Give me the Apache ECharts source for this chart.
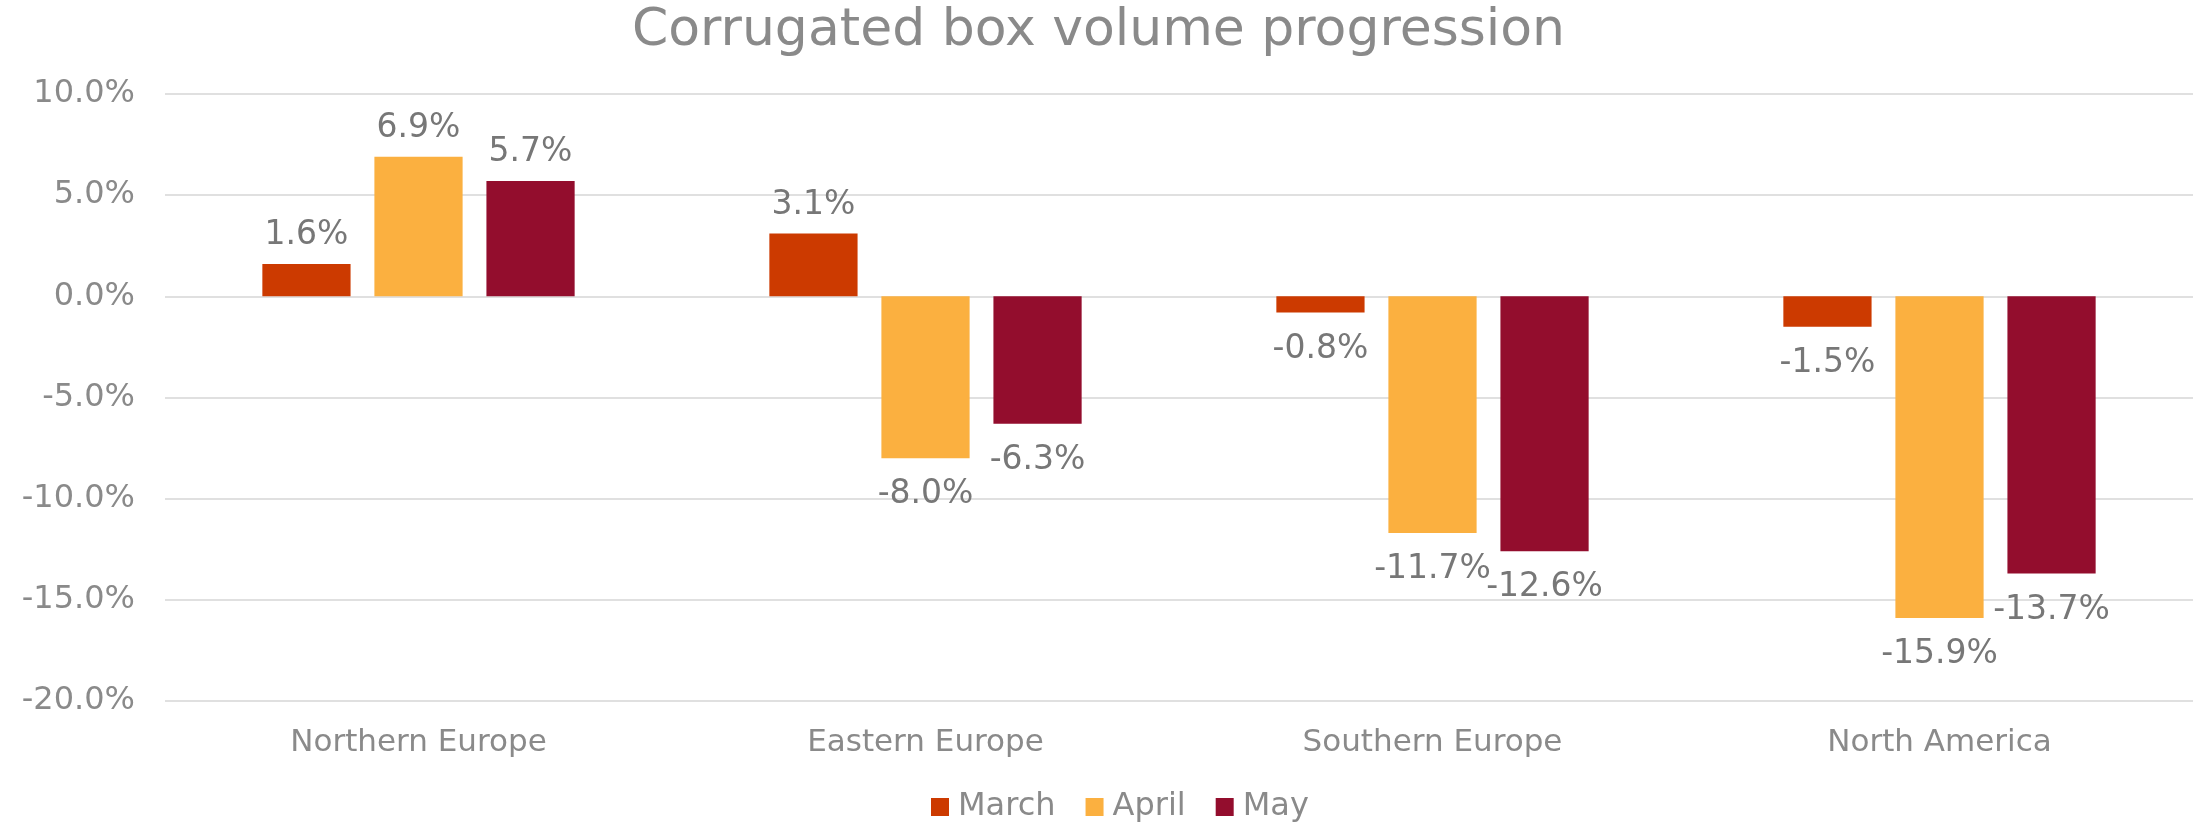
<!DOCTYPE html>
<html><head><meta charset="utf-8">
<script src="https://cdn.jsdelivr.net/npm/echarts@6/dist/echarts.min.js"></script>
<style>html,body{margin:0;padding:0;background:#fff}#c{width:2197px;height:822px}</style>
</head><body><div id="c"></div>
<script>
const categories = ['Northern Europe', 'Eastern Europe', 'Southern Europe', 'North America'];
const march = [1.6, 3.1, -0.8, -1.5];
const april = [6.9, -8.0, -11.7, -15.9];
const may = [5.7, -6.3, -12.6, -13.7];
const seriesNames = ['March', 'April', 'May'];
const colors = ['#CC3A00', '#FBB040', '#930D2D'];
const FONT = '"DejaVu Sans", Verdana, sans-serif';

function mk(name, data, color) {
  return {
    name, type: 'bar', barWidth: '17.4%', barGap: '27%',
    itemStyle: { color },
    data: data.map(v => ({
      value: v,
      label: { position: v >= 0 ? 'top' : 'bottom', distance: v >= 0 ? 12 : 20 }
    })),
    label: {
      show: true, fontFamily: FONT, fontSize: 33, color: '#777777',
      formatter: p => p.value.toFixed(1) + '%'
    }
  };
}
const series = [mk(seriesNames[0], march, colors[0]), mk(seriesNames[1], april, colors[1]), mk(seriesNames[2], may, colors[2])];

const chart = echarts.init(document.getElementById('c'), null, { renderer: 'canvas' });
chart.setOption({
  animation: false,
  title: {
    text: 'Corrugated box volume progression', left: 'center', top: 0,
    textStyle: { fontFamily: FONT, fontSize: 52, fontWeight: 'normal', color: '#8a8a8a' }
  },
  legend: {
    data: seriesNames, top: 786, left: 926, itemWidth: 18, itemHeight: 18, itemGap: 30,
    icon: 'rect',
    textStyle: { fontFamily: FONT, fontSize: 32, color: '#8a8a8a', padding: [0, 0, 0, 4] }
  },
  grid: { left: 165, right: 4, top: 94, bottom: 121, containLabel: false },
  xAxis: {
    type: 'category', data: categories,
    axisLine: { show: false }, axisTick: { show: false },
    axisLabel: { fontFamily: FONT, fontSize: 31, color: '#8a8a8a', margin: 26 }
  },
  yAxis: {
    type: 'value', min: -20, max: 10, interval: 5,
    axisLine: { show: false }, axisTick: { show: false },
    splitLine: { lineStyle: { color: '#e0e0e0', width: 2 } },
    axisLabel: { fontFamily: FONT, fontSize: 32, color: '#8a8a8a', margin: 30, formatter: v => v.toFixed(1) + '%' }
  },
  series
});
</script></body></html>
